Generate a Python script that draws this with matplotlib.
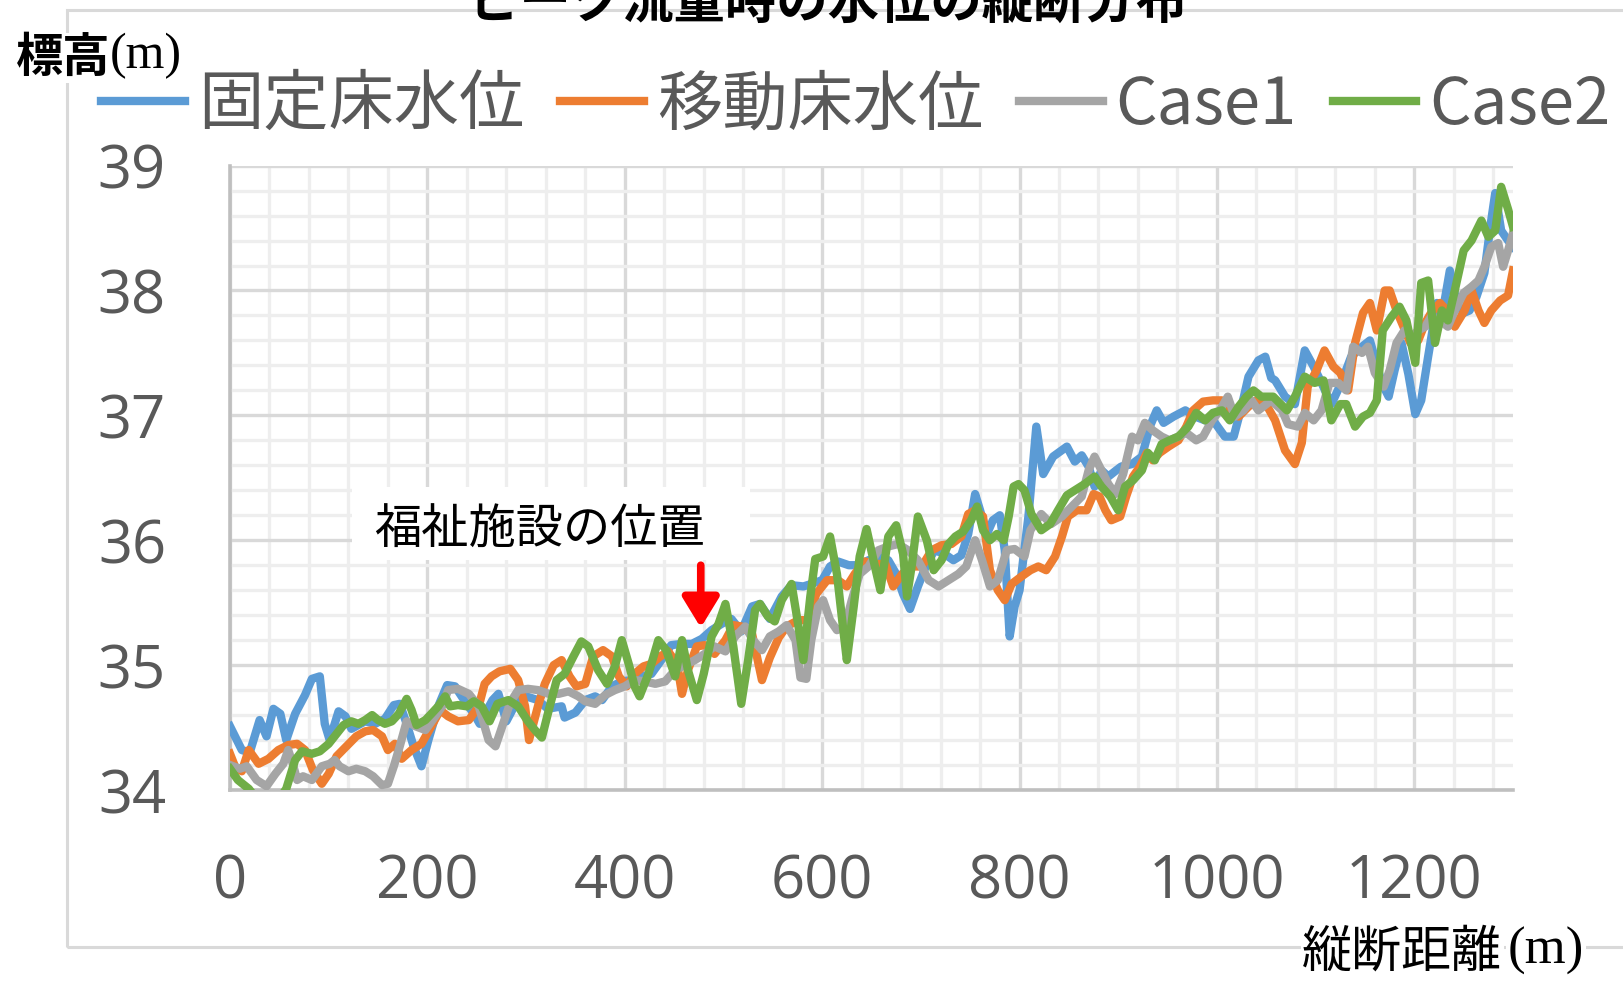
import matplotlib
matplotlib.use("Agg")
import matplotlib.pyplot as plt
from matplotlib.patches import Rectangle
from matplotlib.ticker import MultipleLocator

# 縦断距離(m) と 標高(m)
fixed_x = [0, 12, 20, 30, 37, 44, 51, 57, 66, 76, 83, 91, 96, 101, 110, 117, 123, 137, 147, 157,
           166, 172, 179, 186, 194, 201, 211, 220, 228, 238, 248, 253, 266, 272, 280, 290, 300, 312,
           322, 336, 339, 350, 360, 370, 377, 387, 397, 407, 417, 427, 437, 447, 458, 468, 478, 488,
           498, 508, 518, 529, 537, 547, 559, 569, 581, 589, 600, 608, 616, 627, 637, 647, 657, 667,
           675, 682, 689, 697, 706, 714, 724, 733, 741, 748, 755, 760, 767, 773, 780, 785, 790, 795,
           800, 809, 817, 824, 834, 848, 856, 863, 870, 876, 883, 890, 898, 903, 914, 924, 932, 939,
           946, 956, 968, 978, 988, 998, 1008, 1017, 1025, 1032, 1042, 1049, 1055, 1059, 1069, 1079,
           1089, 1098, 1106, 1116, 1126, 1136, 1147, 1155, 1167, 1174, 1180, 1187, 1194, 1201, 1207,
           1214, 1223, 1229, 1236, 1243, 1250, 1256, 1263, 1271, 1277, 1282, 1288, 1295, 1300]
fixed_y = [34.51, 34.32, 34.30, 34.56, 34.43, 34.65, 34.61, 34.40, 34.61, 34.76, 34.89, 34.91, 34.53,
           34.40, 34.63, 34.59, 34.49, 34.55, 34.53, 34.57, 34.68, 34.69, 34.53, 34.35, 34.19, 34.40,
           34.67, 34.84, 34.83, 34.71, 34.60, 34.53, 34.72, 34.77, 34.55, 34.70, 34.75, 34.72, 34.65,
           34.67, 34.58, 34.62, 34.72, 34.75, 34.72, 34.83, 34.87, 34.88, 34.91, 34.93, 35.04, 35.16,
           35.17, 35.17, 35.21, 35.28, 35.33, 35.37, 35.27, 35.47, 35.49, 35.37, 35.55, 35.64, 35.63,
           35.65, 35.68, 35.79, 35.83, 35.80, 35.80, 35.84, 35.87, 35.84, 35.73, 35.57, 35.45, 35.63,
           35.81, 35.92, 35.89, 35.84, 35.88, 36.05, 36.37, 36.24, 36.05, 36.16, 36.20, 35.92, 35.23,
           35.47, 35.60, 36.19, 36.91, 36.53, 36.67, 36.75, 36.63, 36.68, 36.59, 36.43, 36.56, 36.51,
           36.56, 36.59, 36.61, 36.67, 36.91, 37.04, 36.94, 36.99, 37.04, 36.99, 36.96, 36.94, 36.83,
           36.83, 37.07, 37.31, 37.44, 37.47, 37.30, 37.28, 37.15, 37.09, 37.52, 37.39, 37.26, 37.09,
           37.26, 37.47, 37.55, 37.60, 37.26, 37.15, 37.36, 37.58, 37.33, 37.01, 37.12, 37.47, 37.90,
           37.84, 38.16, 37.90, 37.82, 37.84, 37.95, 38.14, 38.51, 38.78, 38.48, 38.40, 38.35]

moving_x = [0, 5, 12, 19, 29, 39, 49, 59, 68, 76, 84, 93, 100, 108, 118, 128, 137, 145, 154, 160,
            167, 174, 184, 194, 204, 213, 221, 231, 242, 252, 258, 265, 273, 284, 292, 299, 303, 312,
            319, 328, 336, 344, 351, 360, 368, 378, 387, 394, 402, 410, 419, 427, 436, 444, 453, 458,
            464, 473, 481, 491, 502, 510, 518, 529, 539, 547, 556, 564, 576, 586, 594, 605, 616, 625,
            633, 643, 654, 664, 672, 681, 691, 701, 711, 721, 731, 741, 748, 755, 763, 770, 778, 785,
            792, 802, 811, 819, 827, 836, 843, 849, 858, 868, 875, 881, 887, 893, 902, 908, 915, 922,
            929, 935, 942, 951, 961, 969, 976, 986, 996, 1005, 1013, 1022, 1032, 1040, 1049, 1059,
            1069, 1079, 1086, 1092, 1101, 1109, 1118, 1125, 1133, 1140, 1148, 1155, 1162, 1170, 1175,
            1182, 1189, 1196, 1204, 1211, 1217, 1226, 1233, 1241, 1251, 1258, 1265, 1271, 1278, 1287,
            1295, 1300]
moving_y = [34.29, 34.19, 34.15, 34.32, 34.21, 34.25, 34.32, 34.36, 34.37, 34.32, 34.16, 34.05, 34.13,
            34.27, 34.35, 34.43, 34.47, 34.48, 34.43, 34.32, 34.37, 34.25, 34.32, 34.37, 34.51, 34.64,
            34.59, 34.55, 34.56, 34.67, 34.85, 34.91, 34.95, 34.97, 34.88, 34.67, 34.40, 34.67, 34.85,
            35.00, 35.04, 34.91, 34.83, 34.85, 35.07, 35.12, 35.07, 34.91, 34.83, 34.93, 34.99, 35.01,
            35.07, 35.11, 35.01, 34.77, 34.96, 35.15, 35.16, 35.09, 35.20, 35.32, 35.31, 35.25, 34.88,
            35.06, 35.22, 35.31, 35.36, 35.36, 35.57, 35.68, 35.68, 35.63, 35.73, 35.83, 35.81, 35.81,
            35.63, 35.73, 35.79, 35.79, 35.92, 35.96, 35.97, 36.03, 36.21, 36.24, 36.19, 35.76, 35.60,
            35.52, 35.65, 35.71, 35.76, 35.79, 35.76, 35.87, 36.03, 36.19, 36.24, 36.24, 36.37, 36.35,
            36.24, 36.16, 36.19, 36.35, 36.51, 36.59, 36.70, 36.64, 36.70, 36.75, 36.80, 36.91, 37.04,
            37.11, 37.12, 37.12, 37.04, 36.99, 37.07, 37.12, 37.10, 36.96, 36.72, 36.61, 36.78, 37.23,
            37.36, 37.52, 37.39, 37.34, 37.20, 37.58, 37.82, 37.90, 37.68, 38.00, 38.00, 37.84, 37.71,
            37.58, 37.60, 37.74, 37.82, 37.90, 37.84, 37.71, 37.84, 38.00, 37.84, 37.74, 37.84, 37.92,
            37.96, 38.16]

case1_x = [0, 10, 17, 27, 37, 46, 54, 59, 64, 68, 74, 83, 93, 101, 106, 111, 120, 128, 137, 145,
           154, 160, 166, 172, 179, 188, 198, 208, 215, 221, 231, 242, 252, 262, 269, 284, 292, 302,
           312, 323, 333, 343, 353, 360, 370, 380, 390, 400, 410, 420, 431, 441, 451, 461, 471, 481,
           491, 502, 512, 522, 530, 539, 547, 556, 564, 573, 578, 584, 589, 596, 601, 608, 615, 623,
           630, 638, 647, 657, 667, 677, 687, 697, 708, 718, 728, 738, 746, 755, 762, 770, 778, 787,
           795, 805, 811, 822, 832, 843, 853, 863, 870, 876, 883, 890, 897, 905, 914, 920, 927, 935,
           944, 952, 961, 969, 979, 986, 995, 1003, 1011, 1018, 1027, 1035, 1042, 1055, 1066, 1072,
           1082, 1089, 1098, 1106, 1114, 1123, 1131, 1138, 1147, 1153, 1160, 1169, 1175, 1182, 1190,
           1197, 1204, 1211, 1217, 1226, 1234, 1241, 1250, 1258, 1265, 1271, 1278, 1285, 1290, 1295,
           1300]
case1_y = [34.20, 34.17, 34.19, 34.08, 34.03, 34.13, 34.21, 34.32, 34.20, 34.08, 34.11, 34.08, 34.19,
           34.21, 34.24, 34.19, 34.15, 34.17, 34.15, 34.11, 34.04, 34.05, 34.19, 34.35, 34.55, 34.51,
           34.48, 34.59, 34.67, 34.80, 34.81, 34.77, 34.67, 34.40, 34.35, 34.70, 34.80, 34.81, 34.80,
           34.77, 34.77, 34.79, 34.75, 34.71, 34.69, 34.76, 34.80, 34.83, 34.88, 34.87, 34.85, 34.87,
           34.96, 35.00, 35.04, 35.09, 35.15, 35.11, 35.23, 35.31, 35.20, 35.12, 35.23, 35.27, 35.32,
           35.20, 34.90, 34.89, 35.20, 35.47, 35.52, 35.36, 35.28, 35.31, 35.52, 35.73, 35.79, 35.92,
           35.95, 35.97, 35.92, 35.84, 35.68, 35.63, 35.68, 35.73, 35.79, 36.00, 35.84, 35.63, 35.68,
           35.92, 35.93, 35.87, 36.08, 36.21, 36.13, 36.19, 36.27, 36.35, 36.56, 36.67, 36.56, 36.45,
           36.37, 36.53, 36.83, 36.80, 36.94, 36.88, 36.83, 36.80, 36.83, 36.86, 36.80, 36.83, 36.96,
           37.04, 37.15, 36.99, 37.04, 37.12, 37.04, 37.12, 37.04, 36.93, 36.91, 37.02, 36.96, 37.04,
           37.26, 37.26, 37.20, 37.55, 37.50, 37.55, 37.34, 37.23, 37.36, 37.58, 37.68, 37.63, 37.68,
           37.71, 37.79, 37.76, 37.71, 37.84, 37.98, 38.03, 38.08, 38.19, 38.35, 38.38, 38.19, 38.32,
           38.46]

case2_x = [0, 8, 19, 27, 40, 50, 57, 66, 73, 83, 91, 100, 106, 115, 123, 130, 137, 144, 150, 157,
           164, 171, 179, 184, 189, 198, 204, 211, 218, 223, 231, 240, 247, 255, 263, 271, 282, 292,
           301, 309, 316, 323, 331, 339, 348, 356, 363, 373, 382, 390, 397, 404, 410, 415, 424, 434,
           442, 451, 458, 464, 473, 480, 488, 495, 502, 510, 518, 525, 532, 537, 545, 552, 559, 569,
           576, 581, 588, 593, 601, 608, 615, 621, 625, 632, 638, 645, 652, 659, 667, 675, 682, 686,
           691, 697, 706, 713, 721, 728, 735, 743, 751, 757, 763, 770, 777, 784, 789, 794, 799, 805,
           812, 822, 831, 839, 848, 856, 866, 876, 883, 892, 900, 907, 915, 924, 930, 937, 944, 952,
           961, 971, 979, 988, 996, 1005, 1013, 1022, 1030, 1037, 1045, 1057, 1071, 1079, 1089, 1099,
           1108, 1116, 1125, 1131, 1140, 1148, 1155, 1162, 1168, 1177, 1185, 1192, 1201, 1207, 1214,
           1221, 1228, 1234, 1241, 1250, 1258, 1268, 1275, 1282, 1288, 1295, 1300]
case2_y = [34.17, 34.08, 34.01, 33.93, 33.90, 33.93, 34.01, 34.24, 34.31, 34.29, 34.31, 34.37, 34.43,
           34.52, 34.55, 34.53, 34.56, 34.60, 34.56, 34.53, 34.55, 34.61, 34.73, 34.64, 34.52, 34.56,
           34.61, 34.67, 34.75, 34.67, 34.68, 34.67, 34.71, 34.67, 34.55, 34.69, 34.72, 34.67, 34.56,
           34.48, 34.42, 34.64, 34.88, 34.93, 35.07, 35.19, 35.15, 34.96, 34.85, 34.99, 35.20, 35.01,
           34.83, 34.75, 34.93, 35.20, 35.12, 34.91, 35.20, 34.96, 34.72, 34.93, 35.23, 35.33, 35.49,
           35.15, 34.69, 35.04, 35.44, 35.49, 35.39, 35.35, 35.52, 35.65, 35.31, 35.04, 35.55, 35.85,
           35.87, 36.03, 35.73, 35.31, 35.04, 35.47, 35.87, 36.09, 35.84, 35.60, 36.03, 36.12, 35.89,
           35.55, 35.81, 36.19, 36.00, 35.76, 35.84, 35.97, 36.03, 36.07, 36.16, 36.27, 36.08, 36.00,
           36.05, 36.00, 36.19, 36.43, 36.45, 36.40, 36.21, 36.08, 36.13, 36.24, 36.36, 36.40, 36.45,
           36.51, 36.43, 36.35, 36.24, 36.43, 36.48, 36.56, 36.70, 36.64, 36.77, 36.80, 36.83, 36.91,
           37.02, 36.96, 37.02, 37.04, 36.96, 37.07, 37.15, 37.20, 37.15, 37.15, 37.04, 37.15, 37.31,
           37.26, 37.28, 36.96, 37.09, 37.09, 36.91, 36.99, 37.02, 37.12, 37.68, 37.79, 37.87, 37.76,
           37.42, 38.06, 38.08, 37.58, 37.84, 37.76, 38.00, 38.32, 38.40, 38.56, 38.43, 38.48, 38.83,
           38.65, 38.51]

series = [
    ("固定床水位", fixed_x, fixed_y, "#5B9BD5"),
    ("移動床水位", moving_x, moving_y, "#ED7D31"),
    ("Case1", case1_x, case1_y, "#A5A5A5"),
    ("Case2", case2_x, case2_y, "#70AD47"),
]

x_ticks = [0, 200, 400, 600, 800, 1000, 1200]
y_ticks = [34, 35, 36, 37, 38, 39]

plt.rcParams["font.family"] = ["Open Sans", "Noto Sans CJK JP", "DejaVu Sans"]
cjk = ["Noto Sans CJK JP"]
serif_cjk = ["Liberation Serif", "Noto Sans CJK JP"]

W, H = 1623, 981
fig = plt.figure(figsize=(W / 100, H / 100), dpi=100)
ax = fig.add_axes([230 / W, 1 - 790 / H, 1283 / W, 624.4 / H])

# chart-area border
fig.patches.append(Rectangle((67 / W, 1 - 947 / H), 1.2, (947 - 10) / H, transform=fig.transFigure,
                             fill=False, edgecolor="#D9D9D9", lw=2.2, zorder=0))

lines = []
for name, xs, ys, col in series:
    ln, = ax.plot(xs, ys, color=col, lw=6.0, solid_joinstyle="round", label=name, zorder=3)
    lines.append(ln)

ax.set_xlim(0, 1300)
ax.set_ylim(34, 39)
ax.set_xticks(x_ticks)
ax.set_yticks(y_ticks)
ax.xaxis.set_minor_locator(MultipleLocator(40))
ax.yaxis.set_minor_locator(MultipleLocator(0.2))
ax.grid(which="major", color="#D9D9D9", lw=2.4, zorder=1)
ax.grid(which="minor", color="#EEEEEE", lw=2.4, zorder=0.5)
ax.set_axisbelow(True)
ax.tick_params(which="both", length=0)
ax.tick_params(axis="y", pad=46, labelsize=43, labelcolor="#595959")
ax.tick_params(axis="x", pad=45, labelsize=43, labelcolor="#595959")
for side in ["top", "right"]:
    ax.spines[side].set_visible(False)
for side in ["left", "bottom"]:
    ax.spines[side].set_color("#BFBFBF")
    ax.spines[side].set_linewidth(2.6)

# facility location note
ax.add_patch(Rectangle((124, 35.84), 403, 0.59, facecolor="white", edgecolor="none", zorder=2))
ax.text(146, 36.08, "福祉施設の位置", fontsize=34, color="black", va="center", ha="left",
        family=cjk, zorder=4)
ax.annotate("", xy=(477, 35.30), xytext=(477, 35.80),
            arrowprops=dict(arrowstyle="-|>,head_length=0.9,head_width=0.55", color="red",
                            lw=5.5, shrinkA=0, shrinkB=0, mutation_scale=20), zorder=5)

leg = fig.legend(handles=lines, labels=[s[0] for s in series], loc="center",
                 bbox_to_anchor=(856 / W, 1 - 106 / H), ncol=4, frameon=False, fontsize=47,
                 handlelength=1.28, handletextpad=0.2, columnspacing=0.55, borderpad=0,
                 labelcolor="#595959")
for t in leg.get_texts():
    t.set_fontfamily(cjk)

fig.text(828 / W, 1 - 2 / H, "ピーク流量時の水位の縦断分布", fontsize=37, weight="bold",
         ha="center", va="center", family=cjk)
fig.text(16 / W, 1 - 58 / H, "標高", fontsize=34, weight="bold", ha="left", va="center",
         family=cjk, bbox=dict(facecolor="white", edgecolor="none", pad=1))
fig.text(110 / W, 1 - 56 / H, "(m)", fontsize=36, ha="left", va="center",
         family=serif_cjk)
fig.text(1302 / W, 1 - 953 / H, "縦断距離", fontsize=36, ha="left", va="center",
         family=cjk, bbox=dict(facecolor="white", edgecolor="none", pad=1))
fig.text(1508 / W, 1 - 951 / H, "(m)", fontsize=38, ha="left", va="center",
         family=serif_cjk, bbox=dict(facecolor="white", edgecolor="none", pad=1))

fig.savefig("out.png", dpi=100)
